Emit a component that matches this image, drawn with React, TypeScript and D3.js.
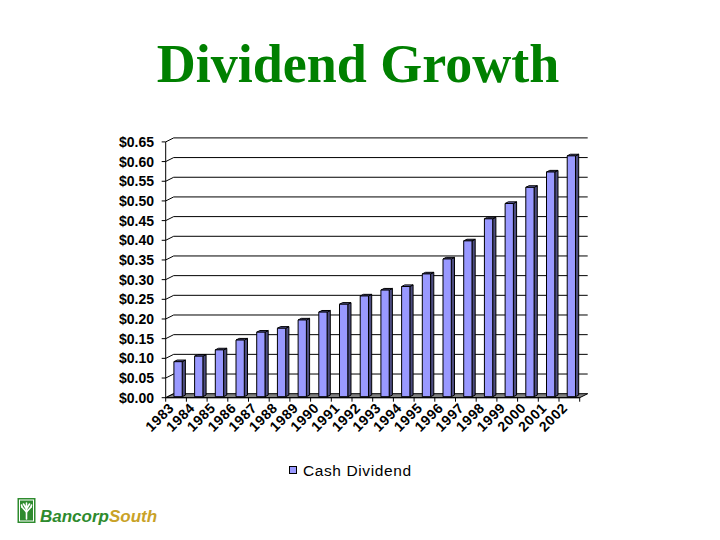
import React from 'react';
import * as d3 from 'd3';

const years = ['1983', '1984', '1985', '1986', '1987', '1988', '1989', '1990', '1991', '1992',
    '1993', '1994', '1995', '1996', '1997', '1998', '1999', '2000', '2001', '2002'];
const cashDividend = [0.089, 0.103, 0.119, 0.144, 0.164, 0.174, 0.195, 0.215, 0.235, 0.256,
    0.271, 0.28, 0.312, 0.35, 0.396, 0.452, 0.491, 0.532, 0.571, 0.612];
const yTicks = [0, 0.05, 0.1, 0.15, 0.2, 0.25, 0.3, 0.35, 0.4, 0.45, 0.5, 0.55, 0.6, 0.65];
const seriesName = 'Cash Dividend';

const App: React.FC = () => {
    const width = 720;
    const height = 540;
    // 3d depth of the plot box
    const depth = { dx: 8, dy: -4 };
    const font = '"Liberation Sans", Arial, sans-serif';

    const x = d3.scaleBand<string>().domain(years).range([165.7, 579.7]).padding(0);
    const y = d3.scaleLinear().domain([0, 0.65]).range([397.7, 141.9]);
    const fmt = d3.format('$.2f');

    const bw = x.bandwidth();
    const barW = bw * 0.4;
    // bar front face sits a quarter of the way into the box
    const fx = depth.dx * 0.25;
    const fy = depth.dy * 0.25;
    const sx = depth.dx * 0.4;
    const sy = depth.dy * 0.4;

    const x0 = x.range()[0];
    const x1 = x.range()[1];
    const yBase = y(0);

    const floor = `M${x0},${yBase}L${x1},${yBase}L${x1 + depth.dx},${yBase + depth.dy}L${x0 + depth.dx},${yBase + depth.dy}Z`;

    return (
        <svg width={width} height={height} style={{ position: 'absolute', left: 0, top: 0, background: '#fff' }}>
            <text x={358} y={81.7} textAnchor="middle" fill="#008000"
                style={{ font: 'bold 54px "Liberation Serif", "Times New Roman", serif' }}>
                Dividend Growth
            </text>

            {/* back wall gridlines + side wall */}
            <g stroke="#000" strokeWidth={1} fill="none">
                {yTicks.map(t => (
                    <g key={t}>
                        {t > 0 && (
                            <line x1={x0 + depth.dx} x2={x1 + depth.dx} y1={y(t) + depth.dy} y2={y(t) + depth.dy} />
                        )}
                        <line x1={x0} y1={y(t)} x2={x0 + depth.dx} y2={y(t) + depth.dy} />
                        <line x1={x0 - 4} x2={x0} y1={y(t)} y2={y(t)} />
                    </g>
                ))}
                <line x1={x0} x2={x0} y1={y(0.65)} y2={yBase} />
            </g>

            <path d={floor} fill="#808080" stroke="#000" strokeWidth={1} />

            {/* x axis front line and ticks */}
            <g stroke="#000" strokeWidth={1}>
                <line x1={x0} x2={x1} y1={yBase} y2={yBase} />
                {years.map(yr => (
                    <line key={yr} x1={x(yr)!} x2={x(yr)!} y1={yBase} y2={yBase + 4} />
                ))}
                <line x1={x1} x2={x1} y1={yBase} y2={yBase + 4} />
            </g>

            {/* bars */}
            <g stroke="#000" strokeWidth={1} strokeLinejoin="round">
                {years.map((yr, i) => {
                    const bx = x(yr)! + (bw - barW) / 2 + fx;
                    const top = y(cashDividend[i]) + fy;
                    const bot = yBase + fy;
                    return (
                        <g key={yr}>
                            <path d={`M${bx + barW},${bot}L${bx + barW + sx},${bot + sy}L${bx + barW + sx},${top + sy}L${bx + barW},${top}Z`}
                                fill="#4d4d80" />
                            <path d={`M${bx},${top}L${bx + sx},${top + sy}L${bx + barW + sx},${top + sy}L${bx + barW},${top}Z`}
                                fill="#7373bf" />
                            <rect x={bx} y={top} width={barW} height={bot - top} fill="#9999ff" />
                        </g>
                    );
                })}
            </g>

            {/* y labels */}
            <g style={{ font: `bold 14px ${font}` }} fill="#000">
                {yTicks.map(t => (
                    <text key={t} x={154} y={y(t)} dy="0.36em" textAnchor="end">{fmt(t)}</text>
                ))}
            </g>

            {/* x labels */}
            <g style={{ font: `bold 14px ${font}`, letterSpacing: '0.6px' }} fill="#000">
                {years.map(yr => (
                    <text key={yr} textAnchor="end"
                        transform={`translate(${x(yr)! + bw / 2 - 1},${yBase + 11}) rotate(-45)`}>
                        {yr}
                    </text>
                ))}
            </g>

            {/* legend */}
            <rect x={289.5} y={466.5} width={7} height={7} fill="#9999ff" stroke="#000" />
            <text x={303} y={470} dy="0.36em" style={{ font: `15.5px ${font}`, letterSpacing: '0.6px' }}>{seriesName}</text>

            {/* logo */}
            <g>
                <rect x={17.5} y={498} width={18} height={25} fill="#2e8b2e" />
                <rect x={19.5} y={500} width={14} height={21} fill="none" stroke="#fff" strokeWidth={1} />
                <g stroke="#fff" strokeWidth={1.6} fill="none" strokeLinecap="round">
                    <path d="M26.5,519V509" />
                    <path d="M26.5,512L22,507M26.5,512L31,507M26.5,509L23.5,504M26.5,509L29.5,504M26.5,508V503" />
                    <path d="M22,507L21.5,505M31,507L31.5,505" />
                </g>
                <text x={40} y={521.7} style={{ font: `italic bold 17px ${font}` }}>
                    <tspan fill="#2e8b2e">Bancorp</tspan>
                    <tspan fill="#c9a227">South</tspan>
                </text>
            </g>
        </svg>
    );
};

export default App;
